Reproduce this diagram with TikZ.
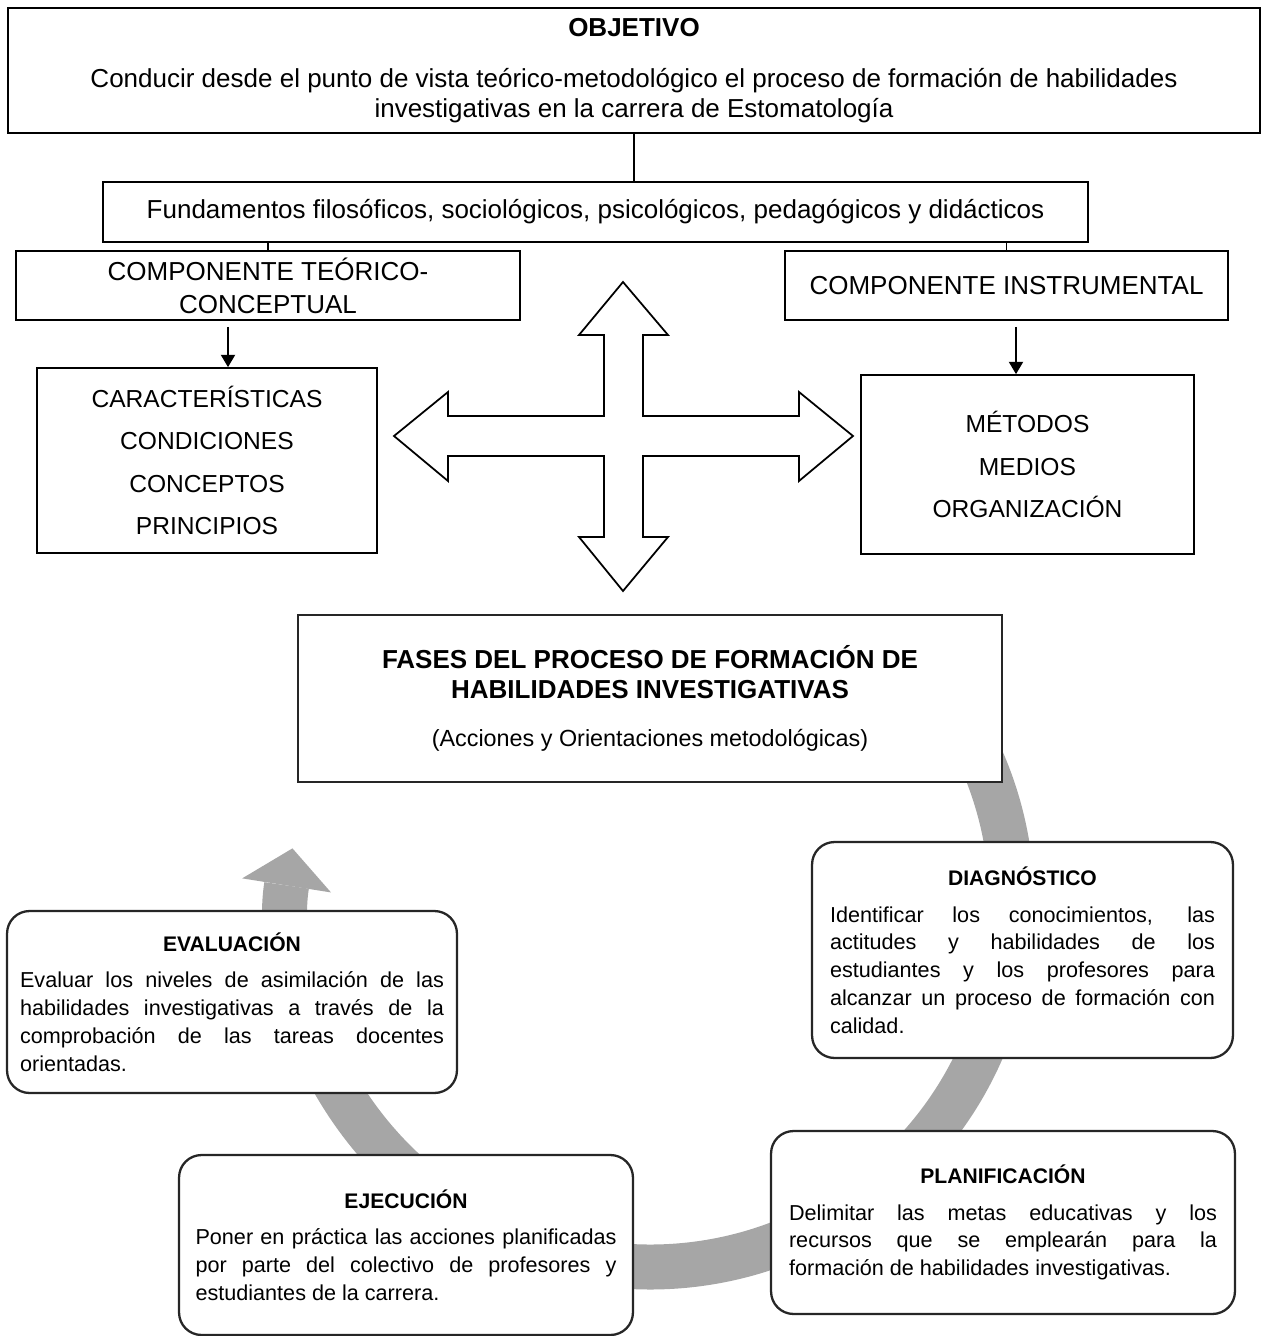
\documentclass[tikz,border=0pt]{standalone}
\usepackage{fontspec}
\setmainfont{Liberation Sans}
\usetikzlibrary{arrows.meta}

\definecolor{ringgray}{RGB}{166,166,166}
\newcommand{\topsize}{\fontsize{14.8}{17}\selectfont}
\newcommand{\listsize}{\fontsize{14}{24}\selectfont}
\newcommand{\phasehead}[1]{{\centering\bfseries\fontsize{12}{15.8}\selectfont #1\par}\vspace{5pt}}

\tikzset{
  plainbox/.style={draw,fill=white,line width=1pt,inner sep=0pt,align=center},
  phasebox/.style={draw=black!85,fill=white,line width=1.3pt,rounded corners=0.45cm,
    inner sep=0pt,align=justify,font=\fontsize{12.3}{15.8}\selectfont},
  arr/.style={line width=1pt,-{Triangle[width=8pt,length=7pt]}},
  ring/.style={draw=ringgray,line width=0.9cm,
    -{Triangle[width=1.8cm,length=0.75cm,line width=0pt]}},
}

\begin{document}
\begin{tikzpicture}[x=0.02cm,y=-0.02cm]
  \useasboundingbox (0,0) rectangle (1262,1336);

  % gray cycle behind the phases
  \draw[ring] (650,905) ++(-40:362) arc[start angle=-40,end angle=189,radius=362];

  % four-way arrow
  \draw[line width=1pt,fill=white,shift={(623,436)}]
    (0,-154) -- (45,-101) -- (20,-101) -- (20,-20) -- (176,-20) -- (176,-44)
    -- (230,0) -- (176,45) -- (176,20) -- (20,20) -- (20,101) -- (45,101)
    -- (0,155) -- (-44,101) -- (-19,101) -- (-19,20) -- (-175,20) -- (-175,45)
    -- (-229,0) -- (-175,-44) -- (-175,-20) -- (-19,-20) -- (-19,-101) -- (-44,-101) -- cycle;

  \node[plainbox,minimum width=25.04cm,minimum height=2.5cm,font=\topsize] (obj) at (634,70.5)
    {\textbf{OBJETIVO}\\[12pt]
     Conducir desde el punto de vista teórico-metodológico el proceso de formación de habilidades\\
     investigativas en la carrera de Estomatología};
  \node[plainbox,minimum width=19.7cm,minimum height=1.2cm,font=\topsize] (fund) at (595.5,212)
    {Fundamentos filosóficos, sociológicos, psicológicos, pedagógicos y didácticos};
  \node[plainbox,minimum width=10.08cm,minimum height=1.38cm,font=\topsize] (comp1) at (268,285.5)
    {COMPONENTE TEÓRICO-\\[1.8pt]CONCEPTUAL};
  \node[plainbox,minimum width=8.86cm,minimum height=1.38cm,font=\topsize] (ci) at (1006.5,285.5)
    {COMPONENTE INSTRUMENTAL};
  \node[plainbox,minimum width=6.8cm,minimum height=3.7cm,font=\listsize] (carac) at (207,460.5)
    {CARACTERÍSTICAS\\CONDICIONES\\CONCEPTOS\\PRINCIPIOS};
  \node[plainbox,minimum width=6.66cm,minimum height=3.58cm,font=\listsize] (metodos) at (1027.5,464.5)
    {MÉTODOS\\MEDIOS\\ORGANIZACIÓN};

  \node[plainbox,draw=black!85,minimum width=14.08cm,minimum height=3.34cm,font=\topsize] (fases) at (650,698.5)
    {\textbf{FASES DEL PROCESO DE FORMACIÓN DE}\\\textbf{HABILIDADES INVESTIGATIVAS}\\[10pt]
     {\fontsize{13.3}{17}\selectfont (Acciones y Orientaciones metodológicas)}};

  \node[phasebox,minimum width=8.42cm,minimum height=4.32cm,text width=7.7cm] (diag) at (1022.5,950)
    {\phasehead{DIAGNÓSTICO}
     Identificar los conocimientos, las\linebreak actitudes y habilidades de los\linebreak
     estudiantes y los profesores para\linebreak alcanzar un proceso de formación con\linebreak calidad.};
  \node[phasebox,minimum width=9.28cm,minimum height=3.66cm,text width=8.56cm] (plan) at (1003,1222.5)
    {\phasehead{PLANIFICACIÓN}
     Delimitar las metas educativas y los\linebreak recursos que se emplearán para la\linebreak
     formación de habilidades investigativas.};
  \node[phasebox,minimum width=9.08cm,minimum height=3.6cm,text width=8.42cm] (ejec) at (406,1245)
    {\phasehead{EJECUCIÓN}
     Poner en práctica las acciones planificadas\linebreak por parte del colectivo de profesores y\linebreak
     estudiantes de la carrera.};
  \node[phasebox,minimum width=9cm,minimum height=3.64cm,text width=8.48cm] (eval) at (232,1002)
    {\phasehead{EVALUACIÓN}
     Evaluar los niveles de asimilación de las\linebreak habilidades investigativas a través de la\linebreak
     comprobación de las tareas docentes\linebreak orientadas.};

  % connectors
  \draw[line width=1pt] (obj.south) -- (obj.south |- fund.north);
  \foreach \n in {comp1,ci}
    \draw[line width=1pt] (\n.north) -- (\n.north |- fund.south);
  \coordinate (tl) at ([xshift=-0.8cm]comp1.south);
  \coordinate (tr) at ([xshift=0.19cm]ci.south);
  \draw[arr] ([yshift=-0.12cm]tl) -- (tl |- carac.north);
  \draw[arr] ([yshift=-0.12cm]tr) -- (tr |- metodos.north);
\end{tikzpicture}
\end{document}
